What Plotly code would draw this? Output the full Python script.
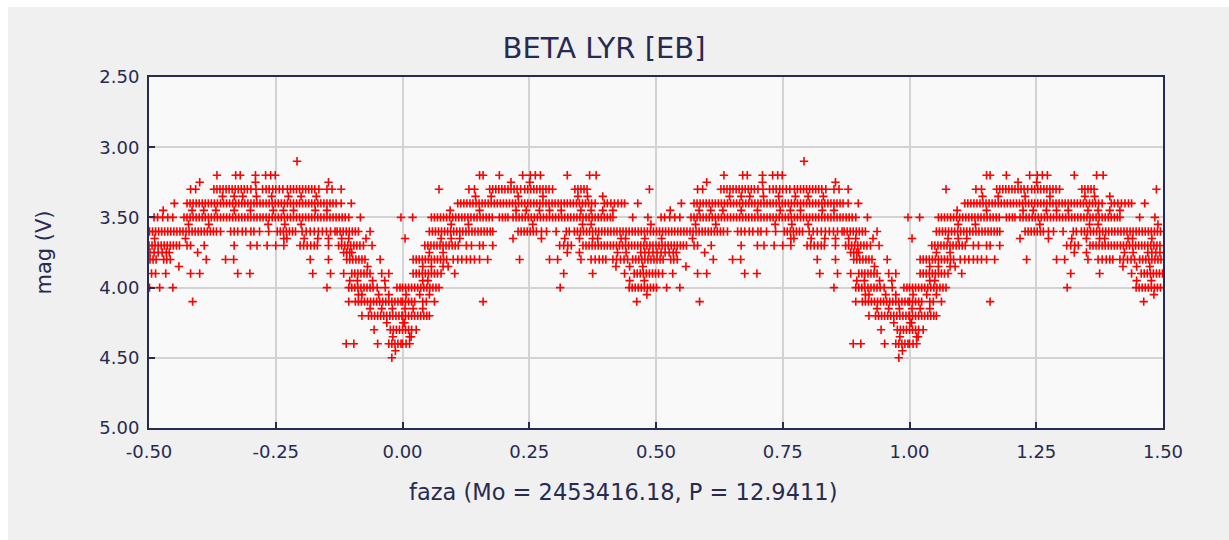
import plotly.graph_objects as go

# ---- data: one cycle of the folded light curve, phases in thousandths per magnitude row ----
m310 = [792]
m320 = [152, 159, 191, 237, 252, 262, 272, 325, 369, 382, 634, 671, 680, 710, 730, 740, 749]
m325 = [214, 251, 600, 710, 854]
m330 = [72, 131, 142, 172, 178, 184, 190, 196, 202, 208, 214, 220, 226, 233, 241, 247, 253, 259, 265,
        271, 277, 283, 289, 296, 340, 346, 352, 358, 364, 487, 582, 592, 628, 634, 640, 646, 652, 658,
        664, 670, 676, 682, 688, 694, 701, 711, 724, 731, 737, 744, 750, 757, 764, 773, 779, 785, 791,
        797, 803, 809, 815, 821, 827, 835, 851, 861, 879]
m335 = [144, 175, 228, 277, 346, 365, 395, 645, 668, 685, 712, 742, 775, 800, 830]
m340 = [109, 115, 121, 127, 133, 139, 145, 151, 157, 163, 169, 175, 181, 187, 193, 199, 205, 211, 217,
        223, 229, 235, 241, 247, 253, 259, 265, 271, 277, 283, 289, 295, 301, 307, 313, 319, 325, 331,
        337, 343, 349, 355, 361, 367, 373, 380, 398, 404, 411, 418, 425, 432, 438, 464, 550, 575, 581,
        587, 593, 599, 605, 611, 617, 623, 629, 635, 641, 647, 653, 659, 665, 671, 677, 683, 689, 695,
        701, 707, 713, 719, 725, 731, 737, 743, 749, 755, 761, 767, 773, 779, 785, 791, 797, 803, 809,
        815, 821, 827, 833, 839, 845, 851, 857, 863, 869, 879, 899]
m345 = [94, 152, 224, 244, 270, 290, 313, 352, 372, 395, 415, 528, 585, 608, 632, 668, 700, 745, 765,
        785, 828, 851]
m350 = [20, 57, 63, 69, 75, 81, 87, 93, 99, 105, 111, 117, 123, 129, 135, 141, 147, 153, 159, 165, 171,
        177, 191, 197, 203, 208, 218, 224, 230, 236, 242, 248, 254, 260, 266, 272, 278, 284, 290, 296,
        302, 308, 314, 320, 326, 332, 338, 344, 350, 356, 362, 368, 374, 380, 386, 392, 398, 404, 410,
        415, 454, 484, 510, 517, 527, 537, 547, 569, 575, 581, 587, 593, 599, 605, 611, 617, 623, 629,
        635, 641, 647, 653, 659, 665, 671, 677, 683, 689, 695, 701, 707, 713, 719, 725, 731, 737, 743,
        749, 755, 761, 767, 773, 779, 785, 791, 797, 803, 809, 815, 821, 827, 833, 839, 845, 851, 857,
        863, 869, 875, 881, 887, 894, 917, 997]
m355 = [96, 130, 257, 355, 372, 490, 578, 618, 735, 768, 800]
m360 = [53, 59, 65, 71, 77, 83, 89, 95, 101, 107, 113, 119, 125, 131, 137, 143, 149, 155, 161, 167, 173,
        178, 228, 234, 240, 246, 252, 258, 264, 274, 284, 303, 323, 329, 339, 345, 351, 357, 363, 369,
        375, 381, 387, 393, 399, 405, 411, 417, 423, 429, 435, 441, 447, 453, 459, 465, 471, 477, 483,
        489, 495, 501, 507, 513, 519, 525, 531, 537, 543, 549, 555, 561, 567, 573, 579, 585, 591, 597,
        603, 609, 615, 621, 627, 633, 641, 661, 668, 675, 684, 691, 701, 707, 718, 736, 753, 759, 765,
        771, 777, 783, 789, 802, 810, 818, 826, 834, 842, 850, 858, 867, 871, 877, 883, 889, 895, 901,
        907, 913, 936]
m365 = [5, 76, 96, 113, 218, 274, 320, 349, 375, 385, 431, 440, 478, 511, 572, 766, 772, 806, 833, 854,
        880, 894, 928]
m370 = [44, 50, 56, 62, 68, 74, 80, 86, 92, 98, 104, 110, 126, 136, 152, 159, 178, 310, 318, 326, 333,
        356, 362, 368, 374, 380, 386, 392, 398, 404, 410, 416, 422, 428, 434, 440, 446, 452, 458, 464,
        470, 476, 482, 488, 494, 500, 506, 512, 518, 524, 530, 536, 542, 548, 554, 560, 575, 582, 609,
        668, 700, 713, 733, 750, 766, 798, 805, 812, 819, 826, 832, 854, 874, 880, 886, 892, 898, 904,
        910, 916, 923, 940]
m375 = [53, 80, 325, 349, 424, 441, 470, 478, 486, 494, 502, 510, 518, 526, 534, 540, 596, 884, 890,
        896, 900]
m380 = [21, 27, 33, 39, 45, 51, 57, 63, 69, 75, 81, 87, 100, 109, 117, 126, 134, 142, 152, 168, 231,
        290, 306, 352, 372, 380, 388, 395, 401, 415, 422, 430, 437, 444, 454, 460, 466, 472, 478, 484,
        490, 496, 502, 508, 514, 529, 535, 542, 613, 651, 667, 818, 854, 890, 896, 902, 908, 914, 920,
        926, 956]
m385 = [40, 57, 80, 90, 421, 448, 474, 559, 931]
m390 = [21, 27, 33, 39, 45, 51, 57, 63, 69, 76, 103, 318, 375, 438, 457, 463, 469, 475, 481, 487, 493,
        499, 505, 513, 533, 582, 600, 675, 699, 823, 858, 884, 900, 906, 912, 918, 924, 930, 936, 959,
        973]
m395 = [40, 50, 448, 477, 896, 911, 941, 965]
m400 = [0, 6, 12, 18, 24, 30, 36, 42, 48, 54, 60, 66, 72, 311, 447, 453, 459, 465, 471, 477, 483, 489,
        495, 501, 521, 547, 851, 894, 900, 906, 912, 918, 924, 930, 936, 942, 950, 966, 989, 995]
m405 = [7, 34, 53, 482, 913, 920, 953, 973]
m410 = [0, 6, 12, 18, 24, 40, 47, 63, 159, 462, 586, 894, 907, 913, 919, 925, 931, 937, 943, 949, 955,
        961, 967, 973, 979, 985, 991, 997]
m415 = [5, 21, 40, 936, 959, 980]
m420 = [0, 6, 12, 18, 24, 30, 36, 42, 48, 53, 920, 933, 939, 945, 951, 957, 963, 969, 975, 981, 987,
        993, 999]
m425 = [1, 4, 969]
m430 = [0, 6, 12, 18, 27, 944, 976, 982, 988, 994]
m435 = [14, 17, 981]
m440 = [0, 7, 14, 889, 904, 951, 973, 979, 985, 991, 997]
m445 = [986]
m450 = [979]

rows = [(3.10, m310), (3.20, m320), (3.25, m325), (3.30, m330), (3.35, m335), (3.40, m340),
        (3.45, m345), (3.50, m350), (3.55, m355), (3.60, m360), (3.65, m365), (3.70, m370),
        (3.75, m375), (3.80, m380), (3.85, m385), (3.90, m390), (3.95, m395), (4.00, m400),
        (4.05, m405), (4.10, m410), (4.15, m415), (4.20, m420), (4.25, m425), (4.30, m430),
        (4.35, m435), (4.40, m440), (4.45, m445), (4.50, m450)]

x_ticks = [-0.5, -0.25, 0.0, 0.25, 0.5, 0.75, 1.0, 1.25, 1.5]
x_tick_labels = ["-0.50", "-0.25", "0.00", "0.25", "0.50", "0.75", "1.00", "1.25", "1.50"]
y_ticks = [2.5, 3.0, 3.5, 4.0, 4.5, 5.0]
y_tick_labels = ["2.50", "3.00", "3.50", "4.00", "4.50", "5.00"]

# fold: each phase is shown in its own cycle and once more in the neighbouring half cycle
xs, ys = [], []
for mag, phases in rows:
    for k in phases:
        ph = k / 1000.0
        xs.append(ph)
        ys.append(mag)
        xs.append(ph - 1.0 if ph >= 0.5 else ph + 1.0)
        ys.append(mag)

NAVY = "#272a52"
FONT = "DejaVu Sans"

fig = go.Figure()
fig.add_trace(go.Scatter(
    x=xs, y=ys, mode="markers",
    marker=dict(symbol="cross-thin", size=6, color="#ff0000",
                line=dict(color="#ff0000", width=1.6)),
    showlegend=False, cliponaxis=True,
))

axis_common = dict(
    showgrid=True, gridcolor="#d3d3d3", gridwidth=1.5,
    showline=True, linecolor=NAVY, linewidth=2, mirror=True,
    ticks="inside", ticklen=6, tickwidth=1.5, tickcolor=NAVY,
    tickfont=dict(family=FONT, size=18, color=NAVY),
    zeroline=False, automargin=False,
)

fig.update_layout(
    width=1229, height=540,
    margin=dict(l=149, r=66, t=77, b=112),
    paper_bgcolor="#f0f0f0", plot_bgcolor="#f9f9f9",
    title=dict(text="BETA LYR [EB]", font=dict(family=FONT, size=29, color=NAVY),
               x=0.4915, xref="container", xanchor="center",
               y=0.911, yref="container", yanchor="middle"),
    xaxis=dict(range=[-0.5, 1.5], tickvals=x_ticks, ticktext=x_tick_labels,
               ticklabelstandoff=6, **axis_common),
    yaxis=dict(range=[5.0, 2.5], tickvals=y_ticks, ticktext=y_tick_labels,
               title=dict(text="mag (V)", font=dict(family=FONT, size=21, color=NAVY), standoff=42),
               ticklabelstandoff=4, **axis_common),
    annotations=[
        dict(text="faza (Mo = 2453416.18, P = 12.9411)", xref="paper", yref="paper",
             x=(623 - 149) / 1014, y=(428 - 492) / 351, xanchor="center", yanchor="middle",
             showarrow=False, font=dict(family=FONT, size=22.5, color=NAVY)),
    ],
    shapes=[
        dict(type="rect", xref="paper", yref="paper", x0=-0.3, x1=(8 - 149) / 1014, y0=-0.5, y1=1.5,
             fillcolor="#ffffff", line=dict(width=0), layer="above"),
        dict(type="rect", xref="paper", yref="paper", x0=-0.3, x1=1.3, y0=(428 - 7) / 351, y1=1.5,
             fillcolor="#ffffff", line=dict(width=0), layer="above"),
    ],
)

fig.write_html("out.html")
